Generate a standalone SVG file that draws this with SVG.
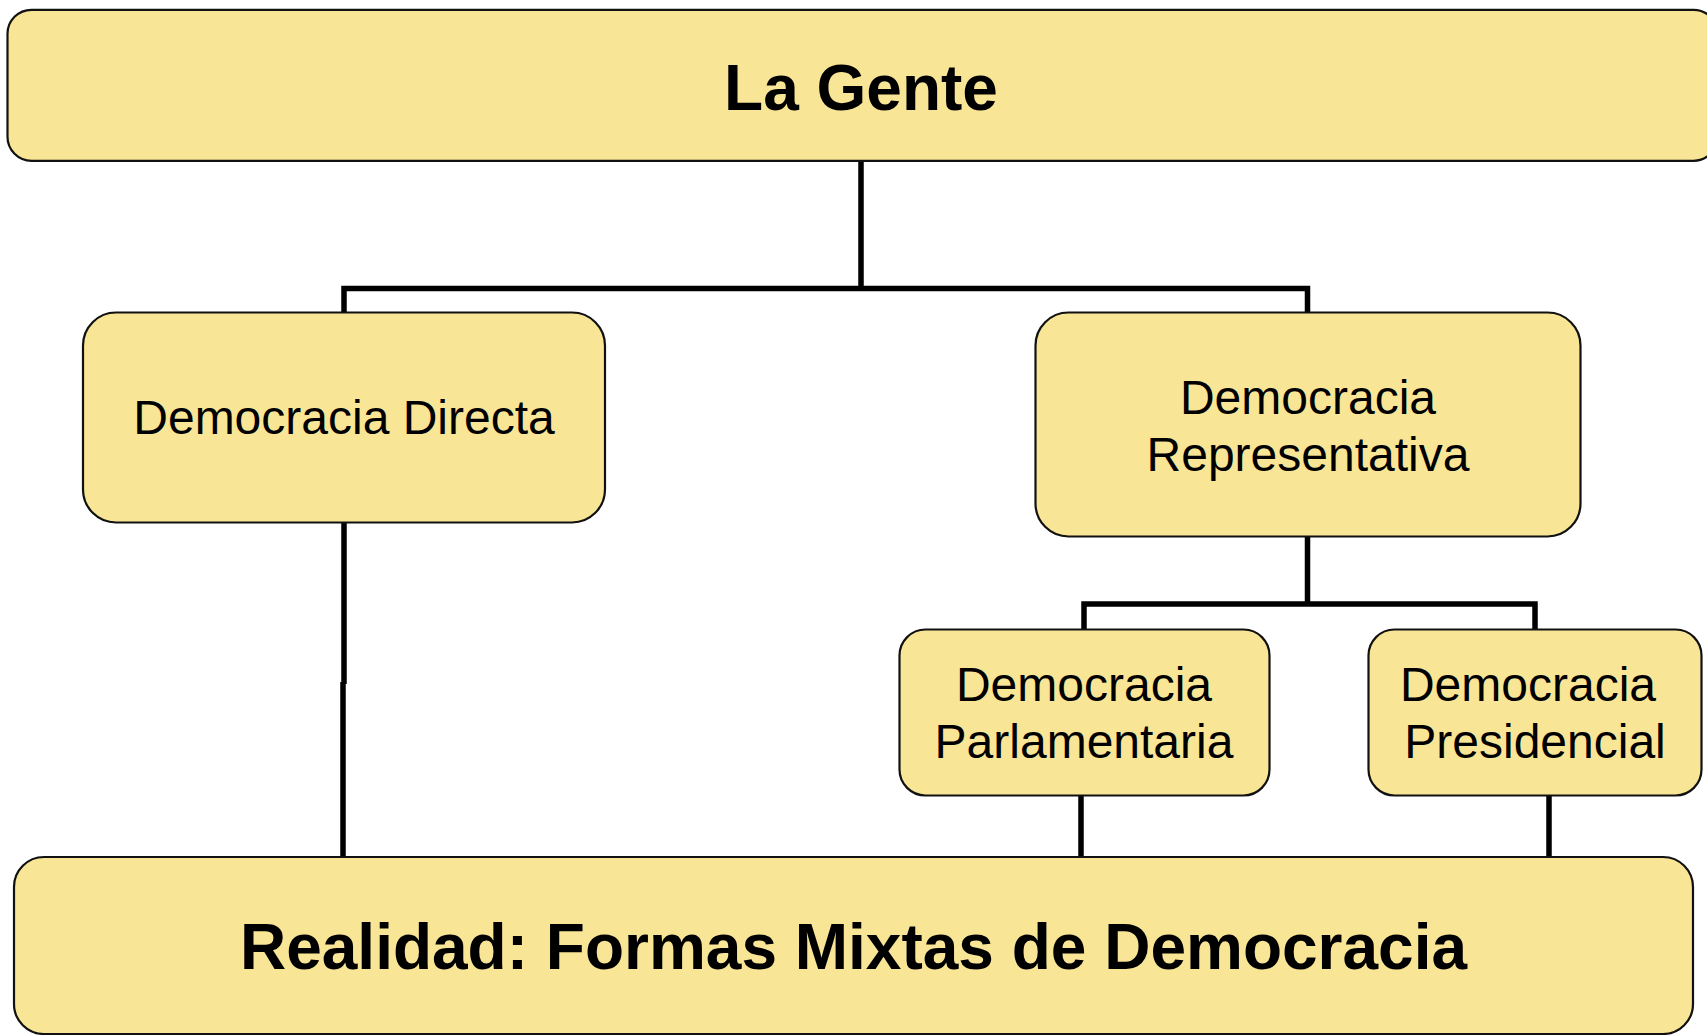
<svg xmlns="http://www.w3.org/2000/svg" width="1707" height="1035" viewBox="0 0 1707 1035">
<style>
.box{fill:#F9E596;stroke:#111;stroke-width:2.2}
.t{font-family:"Liberation Sans",Arial,sans-serif;font-size:48px;fill:#000;text-anchor:middle}
.b{font-family:"Liberation Sans",Arial,sans-serif;font-size:64px;font-weight:bold;fill:#000;text-anchor:middle}
.c{fill:none;stroke:#000;stroke-width:5.5}
</style>
<rect width="1707" height="1035" fill="#fff"/>
<g id="connectors">
<path class="c" d="M861,161 V288.5 M344,312 V288.5 H1307.5 V312"/>
<path class="c" d="M344,522 V684 M343,682 V857"/>
<path class="c" d="M1307.5,536 V604 M1084,629 V604 H1535 V629"/>
<path class="c" d="M1081,795 V857 M1549,795 V857"/>
</g>
<g id="la-gente">
<rect class="box" x="7.5" y="9.8" width="1710" height="151" rx="24"/>
<text class="b" x="861" y="110">La Gente</text>
</g>
<g id="democracia-directa">
<rect class="box" x="83" y="312.5" width="522" height="210" rx="33"/>
<text class="t" x="344" y="434">Democracia Directa</text>
</g>
<g id="democracia-representativa">
<rect class="box" x="1035.5" y="312.5" width="545" height="224" rx="33"/>
<text class="t" x="1308" y="413.5">Democracia</text>
<text class="t" x="1308" y="471">Representativa</text>
</g>
<g id="democracia-parlamentaria">
<rect class="box" x="899.5" y="629.5" width="370" height="166" rx="26"/>
<text class="t" x="1084" y="701">Democracia</text>
<text class="t" x="1084" y="758">Parlamentaria</text>
</g>
<g id="democracia-presidencial">
<rect class="box" x="1368.5" y="629.5" width="333" height="166" rx="26"/>
<text class="t" x="1528" y="701">Democracia</text>
<text class="t" x="1535" y="758">Presidencial</text>
</g>
<g id="realidad">
<rect class="box" x="14" y="857" width="1679" height="177" rx="30"/>
<text class="b" x="853.5" y="969">Realidad: Formas Mixtas de Democracia</text>
</g>
</svg>
